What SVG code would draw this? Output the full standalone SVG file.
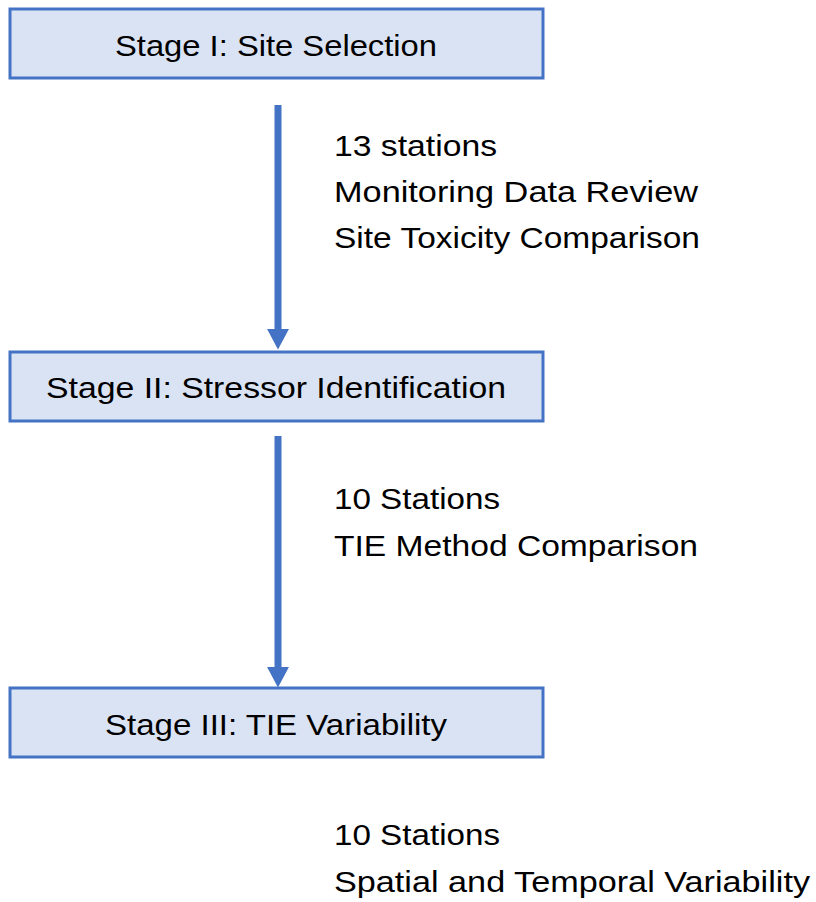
<svg xmlns="http://www.w3.org/2000/svg" width="816" height="902" viewBox="0 0 816 902">
<style>
.box{fill:#DAE3F3;stroke:#4472C4;stroke-width:3}
.t{font-family:"Liberation Sans",Arial,sans-serif;font-size:29px;fill:#000}
.c{text-anchor:middle}
.conn{stroke:#4472C4;stroke-width:7;fill:none}
</style>
<defs>
<marker id="ah" markerWidth="4" markerHeight="4" refX="1.5" refY="2" orient="auto" markerUnits="strokeWidth">
<path d="M0,0.4 L0,3.6 L3,2 Z" fill="#4472C4"/>
</marker>
</defs>
<rect width="816" height="902" fill="#fff"/>
<g id="connectors">
<path class="conn" d="M278,105 L278,339" marker-end="url(#ah)"/>
<path class="conn" d="M278,436 L278,677" marker-end="url(#ah)"/>
</g>
<g id="stage1">
<rect class="box" x="10" y="9" width="533" height="69"/>
<text class="t c" x="276" y="56" textLength="322" lengthAdjust="spacingAndGlyphs">Stage I: Site Selection</text>
</g>
<g id="stage2">
<rect class="box" x="10" y="352" width="533" height="69"/>
<text class="t c" x="276" y="398" textLength="460" lengthAdjust="spacingAndGlyphs">Stage II: Stressor Identification</text>
</g>
<g id="stage3">
<rect class="box" x="10" y="688" width="533" height="69"/>
<text class="t c" x="276" y="735" textLength="342" lengthAdjust="spacingAndGlyphs">Stage III: TIE Variability</text>
</g>
<g id="label1">
<text class="t" x="334" y="156" textLength="163" lengthAdjust="spacingAndGlyphs">13 stations</text>
<text class="t" x="334" y="202" textLength="364" lengthAdjust="spacingAndGlyphs">Monitoring Data Review</text>
<text class="t" x="334" y="248" textLength="366" lengthAdjust="spacingAndGlyphs">Site Toxicity Comparison</text>
</g>
<g id="label2">
<text class="t" x="334" y="509" textLength="166" lengthAdjust="spacingAndGlyphs">10 Stations</text>
<text class="t" x="334" y="556" textLength="364" lengthAdjust="spacingAndGlyphs">TIE Method Comparison</text>
</g>
<g id="label3">
<text class="t" x="334" y="845" textLength="166" lengthAdjust="spacingAndGlyphs">10 Stations</text>
<text class="t" x="334" y="892" textLength="476" lengthAdjust="spacingAndGlyphs">Spatial and Temporal Variability</text>
</g>
</svg>
